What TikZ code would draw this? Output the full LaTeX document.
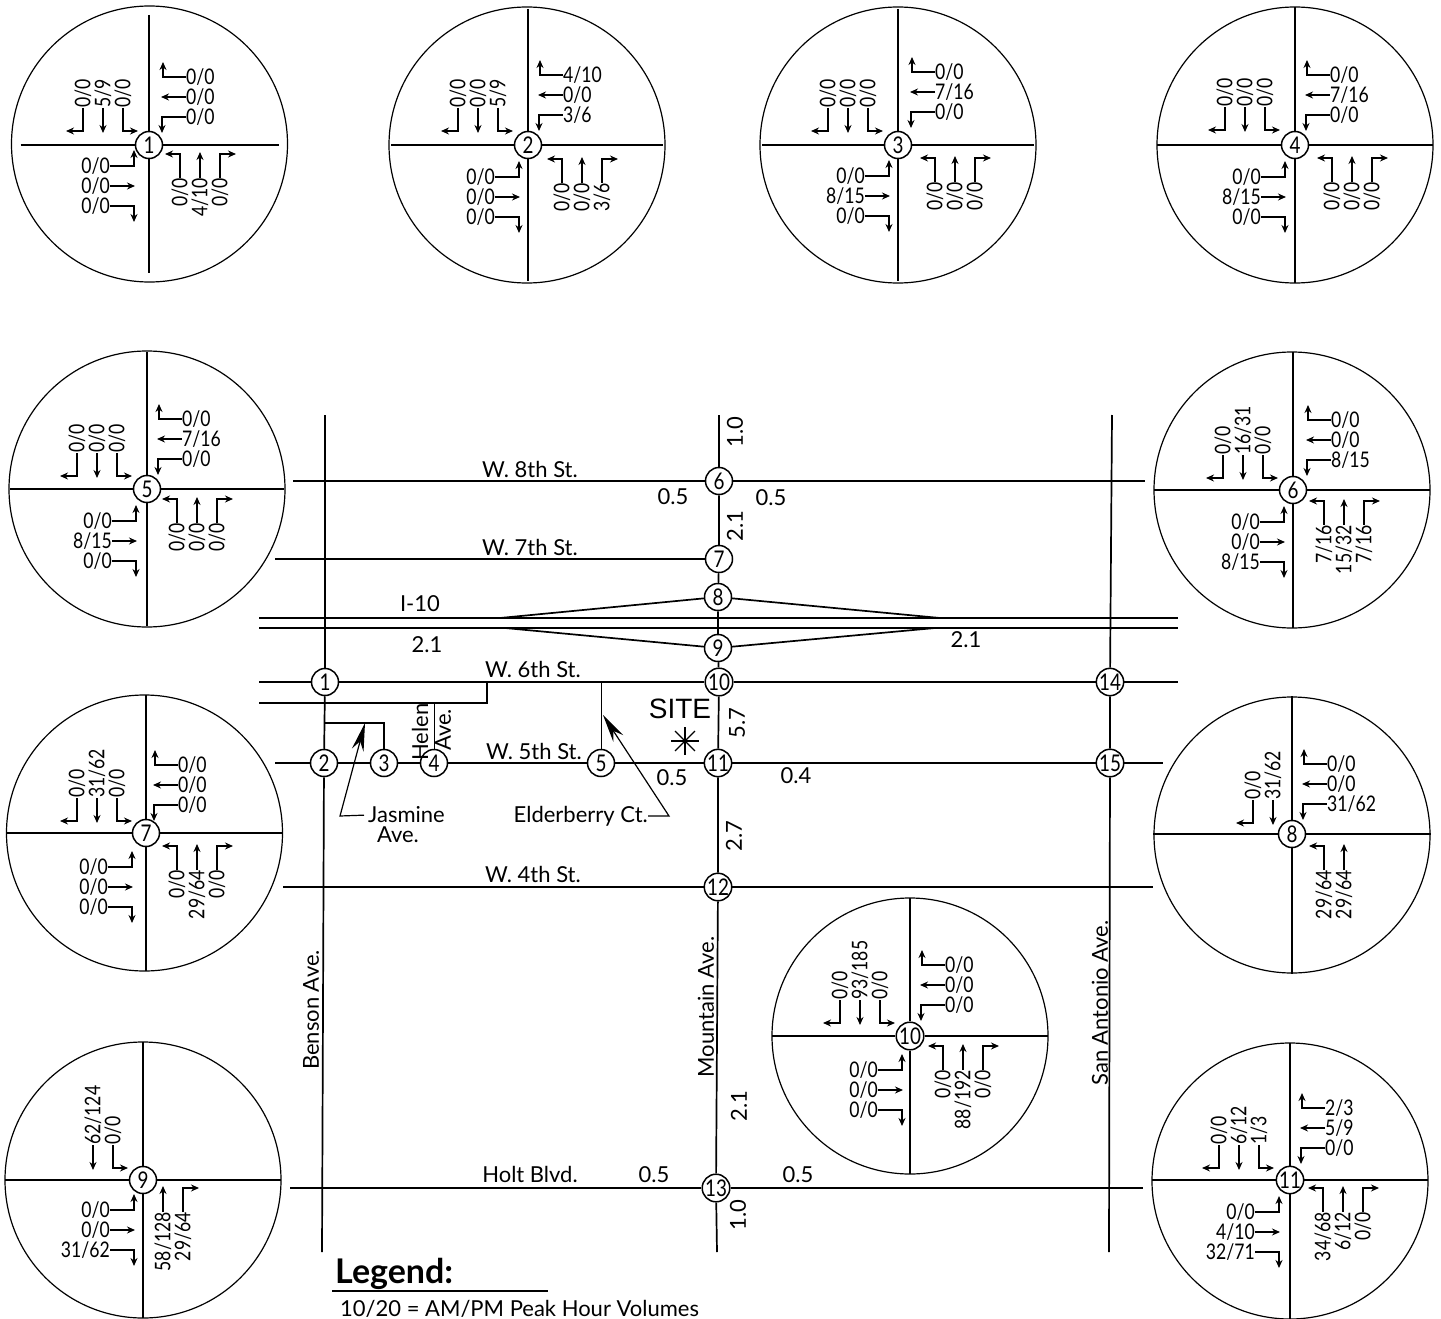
\documentclass[tikz,border=0pt]{standalone}
\usepackage{fontspec}
\setmainfont{Lato}
\newfontfamily\sitefont{Liberation Sans}
\newfontfamily\volfont[FakeStretch=0.82]{Lato}
\usetikzlibrary{arrows.meta,positioning,calc}
\tikzset{ring/.style={draw=black,line width=1.2pt},
 ringarm/.style={draw=black,line width=1.5pt},
 junc/.style={draw=black,circle,fill=white,line width=1.5pt,minimum size=27pt,inner sep=0pt,font=\volfont\fontsize{23}{23}\selectfont},
 vollabel/.style={inner sep=0pt,font=\volfont\fontsize{21.5}{21.5}\selectfont},
 voltip/.style={-{Stealth[length=8pt,width=7pt]},line width=1.3pt,draw=black},
 roadline/.style={draw=black,line width=1.7pt},
 leader/.style={-{Stealth[length=28pt,width=12pt]},line width=1.2pt,draw=black},
 maplabel/.style={inner sep=0pt,font=\fontsize{22}{22}\selectfont}}
\newcommand{\ifvol}[2]{\if\relax\detokenize{#1}\relax\else#2\fi}
% one turning-movement circle: id, junction x, y, circle x, y, number, arm length
\newcommand{\ringblock}[7]{
\coordinate (#1c) at (#4,#5);
\draw[ring] (#1c) circle (138);
\node[junc] (#1j) at (#2,#3) {#6};
\coordinate (#1w) at ({#4-#7},#3);
\coordinate (#1e) at ({#4+#7},#3);
\coordinate (#1n) at (#2,{#5-#7});
\coordinate (#1s) at (#2,{#5+#7});
\draw[ringarm] (#1w)--(#1j) (#1j)--(#1e) (#1n)--(#1j) (#1j)--(#1s);
}
% southbound legs, labels reading upward
\newcommand{\nwvols}[6]{\begin{scope}[shift={(#1j)}]
\ifvol{#4}{\node[vollabel,rotate=90,anchor=west] (#1sa) at ({#2-20},#3) {#4};
\coordinate (#1sax) at ({#2-37},{#3+23});
\draw[voltip] (#1sa.west) |- (#1sax);}
\ifvol{#5}{\node[vollabel,rotate=90,anchor=west] (#1sb) at (#2,#3) {#5};
\coordinate (#1sbx) at (#2,{#3+25});
\draw[voltip] (#1sb.west) -- (#1sbx);}
\ifvol{#6}{\node[vollabel,rotate=90,anchor=west] (#1sc) at ({#2+20},#3) {#6};
\coordinate (#1scx) at ({#2+35},{#3+23});
\draw[voltip] (#1sc.west) |- (#1scx);}
\end{scope}}
% westbound legs
\newcommand{\nevols}[6]{\begin{scope}[shift={(#1j)}]
\ifvol{#4}{\node[vollabel,anchor=west] (#1wa) at (#2,{#3-20}) {#4};
\coordinate (#1wax) at ({#2-23},{#3-35});
\draw[voltip] (#1wa.west) -| (#1wax);}
\ifvol{#5}{\node[vollabel,anchor=west] (#1wb) at (#2,#3) {#5};
\coordinate (#1wbx) at ({#2-25},#3);
\draw[voltip] (#1wb.west) -- (#1wbx);}
\ifvol{#6}{\node[vollabel,anchor=west] (#1wc) at (#2,{#3+20}) {#6};
\coordinate (#1wcx) at ({#2-24},{#3+36});
\draw[voltip] (#1wc.west) -| (#1wcx);}
\end{scope}}
% eastbound legs
\newcommand{\swvols}[6]{\begin{scope}[shift={(#1j)}]
\ifvol{#4}{\node[vollabel,anchor=east] (#1ea) at (#2,{#3-20}) {#4};
\coordinate (#1eax) at ({#2+24},{#3-36});
\draw[voltip] (#1ea.east) -| (#1eax);}
\ifvol{#5}{\node[vollabel,anchor=east] (#1eb) at (#2,#3) {#5};
\coordinate (#1ebx) at ({#2+25},#3);
\draw[voltip] (#1eb.east) -- (#1ebx);}
\ifvol{#6}{\node[vollabel,anchor=east] (#1ec) at (#2,{#3+20}) {#6};
\coordinate (#1ecx) at ({#2+24},{#3+36});
\draw[voltip] (#1ec.east) -| (#1ecx);}
\end{scope}}
% northbound legs, labels reading upward
\newcommand{\sevols}[6]{\begin{scope}[shift={(#1j)}]
\ifvol{#4}{\node[vollabel,rotate=90,anchor=east] (#1na) at ({#2-20},#3) {#4};
\coordinate (#1nax) at ({#2-35},{#3-24});
\draw[voltip] (#1na.east) |- (#1nax);}
\ifvol{#5}{\node[vollabel,rotate=90,anchor=east] (#1nb) at (#2,#3) {#5};
\coordinate (#1nbx) at (#2,{#3-26});
\draw[voltip] (#1nb.east) -- (#1nbx);}
\ifvol{#6}{\node[vollabel,rotate=90,anchor=east] (#1nc) at ({#2+20},#3) {#6};
\coordinate (#1ncx) at ({#2+36},{#3-24});
\draw[voltip] (#1nc.east) |- (#1ncx);}
\end{scope}}
\begin{document}
\begin{tikzpicture}[x=1pt,y=-1pt]
\useasboundingbox (0,0) rectangle (1441,1319);
% turning-movement circles
\ringblock{ba}{149}{145}{149.5}{144}{1}{129}
\nwvols{ba}{-46}{-37}{0/0}{5/9}{0/0}
\nevols{ba}{37}{-48}{0/0}{0/0}{0/0}
\swvols{ba}{-39}{41}{0/0}{0/0}{0/0}
\sevols{ba}{51}{33}{0/0}{4/10}{0/0}
\ringblock{bb}{528}{145}{527}{145}{2}{136}
\nwvols{bb}{-50}{-37}{0/0}{0/0}{5/9}
\nevols{bb}{35}{-50}{4/10}{0/0}{3/6}
\swvols{bb}{-33}{52}{0/0}{0/0}{0/0}
\sevols{bb}{54}{38}{0/0}{0/0}{3/6}
\ringblock{bc}{898}{145}{898}{145}{3}{136}
\nwvols{bc}{-50}{-37}{0/0}{0/0}{0/0}
\nevols{bc}{37}{-53}{0/0}{7/16}{0/0}
\swvols{bc}{-33}{51}{0/0}{8/15}{0/0}
\sevols{bc}{57}{37}{0/0}{0/0}{0/0}
\ringblock{bd}{1295}{145}{1295}{145}{4}{138}
\nwvols{bd}{-50}{-38}{0/0}{0/0}{0/0}
\nevols{bd}{35}{-50}{0/0}{7/16}{0/0}
\swvols{bd}{-34}{52}{0/0}{8/15}{0/0}
\sevols{bd}{57}{37}{0/0}{0/0}{0/0}
\ringblock{be}{147}{489}{147}{489}{5}{137}
\nwvols{be}{-50}{-36}{0/0}{0/0}{0/0}
\nevols{be}{35}{-50}{0/0}{7/16}{0/0}
\swvols{be}{-35}{52}{0/0}{8/15}{0/0}
\sevols{be}{50}{34}{0/0}{0/0}{0/0}
\ringblock{bf}{1293}{490}{1292}{490}{6}{138}
\nwvols{bf}{-50}{-35}{0/0}{16/31}{0/0}
\nevols{bf}{38}{-50}{0/0}{0/0}{8/15}
\swvols{bf}{-33}{52}{0/0}{0/0}{8/15}
\sevols{bf}{51}{35}{7/16}{15/32}{7/16}
\ringblock{bg}{146}{833}{144.5}{833}{7}{138}
\nwvols{bg}{-49}{-35}{0/0}{31/62}{0/0}
\nevols{bg}{32}{-48}{0/0}{0/0}{0/0}
\swvols{bg}{-38}{54}{0/0}{0/0}{0/0}
\sevols{bg}{51}{37}{0/0}{29/64}{0/0}
\ringblock{bh}{1292}{834}{1292}{835}{8}{139}
\nwvols{bh}{-19}{-34}{0/0}{31/62}{}
\nevols{bh}{35}{-50}{0/0}{0/0}{31/62}
\sevols{bh}{52}{36}{29/64}{29/64}{}
\ringblock{bi}{143}{1180}{143}{1180}{9}{138}
\nwvols{bi}{-50}{-35}{}{62/124}{0/0}
\swvols{bi}{-33}{50}{0/0}{0/0}{31/62}
\sevols{bi}{20}{32}{}{58/128}{29/64}
\ringblock{bj}{910}{1036}{910}{1036}{10}{138}
\nwvols{bj}{-50}{-36}{0/0}{93/185}{0/0}
\nevols{bj}{35}{-51}{0/0}{0/0}{0/0}
\swvols{bj}{-32}{54}{0/0}{0/0}{0/0}
\sevols{bj}{53}{34}{0/0}{88/192}{0/0}
\ringblock{bk}{1290}{1180}{1290}{1181}{11}{138}
\nwvols{bk}{-51}{-35}{0/0}{6/12}{1/3}
\nevols{bk}{35}{-52}{2/3}{5/9}{0/0}
\swvols{bk}{-35}{52}{0/0}{4/10}{32/71}
\sevols{bk}{53}{32}{34/68}{6/12}{0/0}
% intersections on the map
\node[junc] (n1) at (325,682) {1};
\node[junc] (n2) at (324,763) {2};
\node[junc] (n3) at (384,763) {3};
\node[junc] (n4) at (434,763) {4};
\node[junc] (n5) at (601,763) {5};
\node[junc] (n6) at (719,481) {6};
\node[junc] (n7) at (719,559) {7};
\node[junc] (n8) at (718,597) {8};
\node[junc] (n9) at (718,648) {9};
\node[junc] (n10) at (719,682) {10};
\node[junc] (n11) at (718,763) {11};
\node[junc] (n12) at (718,887) {12};
\node[junc] (n13) at (716,1188) {13};
\node[junc] (n14) at (1110,682) {14};
\node[junc] (n15) at (1110,763) {15};
% road ends
\coordinate (bensonN) at (325,415);
\coordinate (bensonS) at (322,1252);
\coordinate (mtnN) at (719,415);
\coordinate (mtnS) at (717,1252);
\coordinate (sanN) at (1112,415);
\coordinate (sanS) at (1109,1252);
\coordinate (eightW) at (293,481);
\coordinate (eightE) at (1145,481);
\coordinate (sevenW) at (275,559);
\coordinate (tenUW) at (259,618);
\coordinate (tenUE) at (1178,618);
\coordinate (tenLW) at (259,628);
\coordinate (tenLE) at (1178,628);
\coordinate (sixW) at (259,682);
\coordinate (sixE) at (1178,682);
\coordinate (frontW) at (259,703);
\coordinate (frontC) at (487,703);
\coordinate (frontN) at (487,682);
\coordinate (helenN) at (434,703);
\coordinate (elderN) at (601,682);
\coordinate (jasW) at (324.5,723);
\coordinate (jasE) at (384,723);
\coordinate (fiveW) at (275,763);
\coordinate (fiveE) at (1163,763);
\coordinate (fourW) at (283,887);
\coordinate (fourE) at (1153,887);
\coordinate (holtW) at (290,1188);
\coordinate (holtE) at (1143,1188);
\draw[roadline] (bensonN)--(n1) (n1)--(n2) (n2)--(bensonS);
\draw[roadline] (mtnN)--(n6) (n6)--(n7) (n7)--(n8) (n8)--(n9) (n9)--(n10) (n10)--(n11) (n11)--(n12) (n12)--(n13) (n13)--(mtnS);
\draw[roadline] (sanN)--(n14) (n14)--(n15) (n15)--(sanS);
\draw[roadline] (eightW)--(n6) (n6)--(eightE);
\draw[roadline] (sevenW)--(n7);
\draw[roadline,line width=2.2pt] (tenUW)--(tenUE);
\draw[roadline] (tenLW)--(tenLE);
\draw[roadline] (500,618)--(n8) (n8)--(940,618);
\draw[roadline] (505,628)--(n9) (n9)--(935,628);
\draw[roadline] (sixW)--(n1) (n1)--(n10) (n10)--(n14) (n14)--(sixE);
\draw[roadline,line width=2pt] (frontW)--(frontC)--(frontN);
\draw[roadline,line width=1pt] (helenN)--(n4);
\draw[roadline,line width=1pt] (elderN)--(n5);
\draw[roadline] (jasW)--(jasE)--(n3);
\draw[roadline] (fiveW)--(n2) (n2)--(n3) (n3)--(n4) (n4)--(n5) (n5)--(n11) (n11)--(n15) (n15)--(fiveE);
\draw[roadline] (fourW)--(n12) (n12)--(fourE);
\draw[roadline] (holtW)--(n13) (n13)--(holtE);
% street names
\node[maplabel] (lb8) at (530,469) {W. 8th St.};
\node[maplabel] (lb7) at (530,547) {W. 7th St.};
\node[maplabel] (lb10) at (420,604) {I-10};
\node[maplabel] (lb6) at (533,669) {W. 6th St.};
\node[maplabel] (lb5) at (534,751) {W. 5th St.};
\node[maplabel] (lb4) at (533,874) {W. 4th St.};
\node[maplabel] (lbh) at (530,1174) {Holt Blvd.};
\node[maplabel,rotate=90] (lbb) at (311,1010) {Benson Ave.};
\node[maplabel,rotate=90] (lbm) at (706,1007) {Mountain Ave.};
\node[maplabel,rotate=90] (lbs) at (1100,1003) {San Antonio Ave.};
\node[maplabel,rotate=90] (lbhe) at (420,732) {Helen};
\node[maplabel,rotate=90] (lbha) at (443,730) {Ave.};
% distances
\node[maplabel] (d1) at (427,645) {2.1};
\node[maplabel] (d2) at (966,640) {2.1};
\node[maplabel] (d3) at (673,497) {0.5};
\node[maplabel] (d4) at (771,498) {0.5};
\node[maplabel] (d5) at (672,778) {0.5};
\node[maplabel] (d6) at (796,776) {0.4};
\node[maplabel] (d7) at (654,1175) {0.5};
\node[maplabel] (d8) at (798,1175) {0.5};
\node[maplabel,rotate=90] (d9) at (735,432) {1.0};
\node[maplabel,rotate=90] (d10) at (735,526) {2.1};
\node[maplabel,rotate=90] (d11) at (737,723) {5.7};
\node[maplabel,rotate=90] (d12) at (734,836) {2.7};
\node[maplabel,rotate=90] (d13) at (739,1106) {2.1};
\node[maplabel,rotate=90] (d14) at (738,1215) {1.0};
% site mark
\node[maplabel,font=\sitefont\fontsize{28}{28}\selectfont] (site) at (680,709) {SITE};
\coordinate (sitemark) at (685,741);
\foreach \a in {0,45,...,315}
  \draw[line width=1.2pt] (sitemark)--++(\a:14);
% side-street callouts
\node[maplabel,anchor=west] (jas) at (368,815) {Jasmine};
\node[maplabel] (jasb) at (398,835) {Ave.};
\node[maplabel,anchor=east] (eld) at (648,816) {Elderberry Ct.};
\coordinate (jasK) at (340,816);
\coordinate (jasT) at (365,723);
\coordinate (eldK) at (669,816);
\coordinate (eldT) at (603,715);
\draw[leader,shorten <=4pt] (jas.west)--(jasK)--(jasT);
\draw[leader] (eld.east)--(eldK)--(eldT);
% legend
\node[anchor=base west,inner sep=0pt,font=\fontsize{34}{34}\selectfont\bfseries] (lgd) at (335,1283) {Legend:};
\coordinate (lgdA) at (332,1291);
\coordinate (lgdB) at (548,1291);
\draw[line width=1.2pt] (lgdA)--(lgdB);
\node[anchor=base west,inner sep=0pt,font=\fontsize{22}{22}\selectfont] (lgdt) at (340,1316) {10/20 = AM/PM Peak Hour Volumes};
\end{tikzpicture}
\end{document}
